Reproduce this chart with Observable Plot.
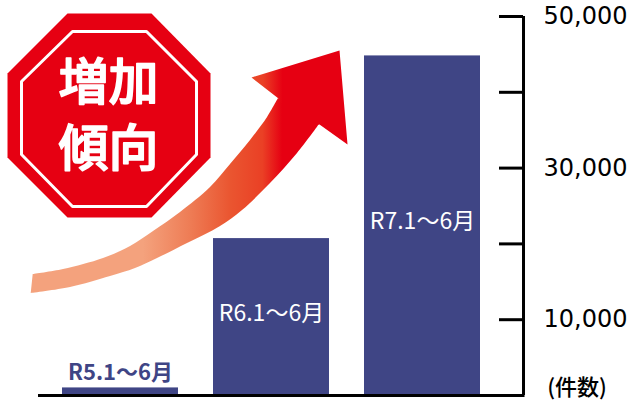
<!DOCTYPE html>
<html><head><meta charset="utf-8">
<style>html,body{margin:0;padding:0;background:#fff;overflow:hidden}svg{display:block}</style>
<script src="https://cdn.jsdelivr.net/npm/d3@7"></script>
<script src="https://cdn.jsdelivr.net/npm/@observablehq/plot@0.6"></script>
</head><body><div id="c"></div>
<script>
const categories = ["R5.1〜6月", "R6.1〜6月", "R7.1〜6月"];
const values = [1000, 20700, 44800];
const labelHeights = [3000, 10850, 22900];
const labelColors = ["#3f4585", "#ffffff", "#ffffff"];
const majorTicks = [10000, 30000, 50000];
const allTicks = [10000, 20000, 30000, 40000, 50000];
const unitLabel = ["(件数)"];

// Decorative pictograms (not data), in page pixels
const octagonOuter = [[67,13],[151,13],[210,73],[210,157],[151,217],[67,217],[7,157],[7,73]];
const octagonInner = [[72,31],[146,31],[196,81],[196,154],[146,206],[72,206],[21,154],[21,81]];
const arrowUpper = [[32.7,274],[63,269],[103,258],[130,246],[153,231],[180,212],[210,187],[230,164],[250,140],[267,117],[278,98]];
const arrowLower = [[30.7,293],[70,287],[110,276],[135,268],[157,258],[187,243],[220,226],[242,210],[270,183],[297,153],[319,124]];
const arrowHead = [[278,98],[251,77],[339,50],[347,144],[319,124],[295,125]];

const bw = 115.98;          // band width of the x scale
const dx = -bw / 2;         // literal x positions otherwise pick up the half-bandwidth offset of the band scale
const px = {value: d => d[0], scale: null};
const py = {value: d => d[1], scale: null};
const lit = v => ({value: () => v, scale: null});
const bars = categories.map((c, i) => ({c, v: values[i], h: labelHeights[i], col: labelColors[i]}));
const ribbon = arrowUpper.map((u, i) => ({x1: u[0], y1: u[1], x2: arrowLower[i][0], y2: arrowLower[i][1]}));
const CJK = "'Noto Sans CJK JP','Noto Sans',sans-serif";

const gradient = () => {
  const svg = d3.create("svg:defs");
  const g = svg.append("linearGradient").attr("id", "arrowFill").attr("gradientUnits", "userSpaceOnUse")
    .attr("x1", 143).attr("x2", 282).attr("y1", 0).attr("y2", 0);
  [[0, "#f4a27d"], [0.34, "#ee7c55"], [0.63, "#ea5530"], [0.86, "#ea4025"], [1, "#e60012"]].forEach(([o, c]) =>
    g.append("stop").attr("offset", o).attr("stop-color", c));
  return svg.node();
};
const badge = {fill: "#fff", stroke: "#fff", strokeWidth: 1.5, strokeLinejoin: "round", fontSize: 50, fontWeight: 500, fontFamily: CJK, dx};
const lit2 = v => lit(v - bw); // ruleY adds the full bandwidth to x2

const chart = Plot.plot({
  width: 629, height: 400,
  marginTop: 16, marginBottom: 5, marginLeft: 0, marginRight: 105,
  x: {type: "band", domain: categories, range: [62, 480], paddingInner: 0.232, paddingOuter: 0, axis: null},
  y: {domain: [0, 50000], range: [395, 16], axis: null},
  style: {background: "#fff", overflow: "visible"},
  marks: [
    gradient,
    Plot.line(octagonOuter.concat([octagonOuter[0]]), {x: px, y: py, fill: "#e60012", stroke: "none", dx}),
    Plot.line(octagonInner.concat([octagonInner[0]]), {x: px, y: py, fill: "none", stroke: "#fff", strokeWidth: 3, dx}),
    Plot.text(["増加"], {x: lit(108), y: lit(83), ...badge}),
    Plot.text(["傾向"], {x: lit(108), y: lit(149), ...badge}),
    Plot.area(ribbon, {x1: {value: "x1", scale: null}, y1: {value: "y1", scale: null}, x2: {value: "x2", scale: null}, y2: {value: "y2", scale: null}, curve: "catmull-rom", fill: "url(#arrowFill)", dx}),
    Plot.line(arrowHead.concat([arrowHead[0]]), {x: px, y: py, fill: "url(#arrowFill)", stroke: "none", dx}),
    Plot.barY(bars, {x: "c", y: "v", fill: "#3f4585"}),
    Plot.text(bars.slice(0, 1), {x: "c", y: "h", text: "c", fill: "col", fontSize: 22, fontFamily: CJK, fontWeight: 700}),
    Plot.text(bars.slice(1), {x: "c", y: "h", text: "c", fill: "col", fontSize: 23, fontFamily: CJK, fontWeight: 400}),
    Plot.ruleY([0], {x1: lit(38), x2: lit2(524.5), stroke: "#000", strokeWidth: 3}),
    Plot.ruleY(allTicks, {x1: lit(499), x2: lit2(523), stroke: "#000", strokeWidth: 3}),
    Plot.ruleX([0], {x: lit(523), y1: 0, y2: 50000, stroke: "#000", strokeWidth: 3, dx}),
    Plot.axisY({anchor: "right", ticks: majorTicks, tickSize: 0, tickPadding: 19, tickFormat: d3.format(","), fontSize: 24, fontFamily: "'DejaVu Sans',sans-serif", fill: "#000", label: null}),
    Plot.text(unitLabel, {x: lit(576.5), y: lit(387), fontSize: 22, fontWeight: 500, fontFamily: CJK, fill: "#000", dx})
  ]
});
document.getElementById("c").appendChild(chart);
</script></body></html>
